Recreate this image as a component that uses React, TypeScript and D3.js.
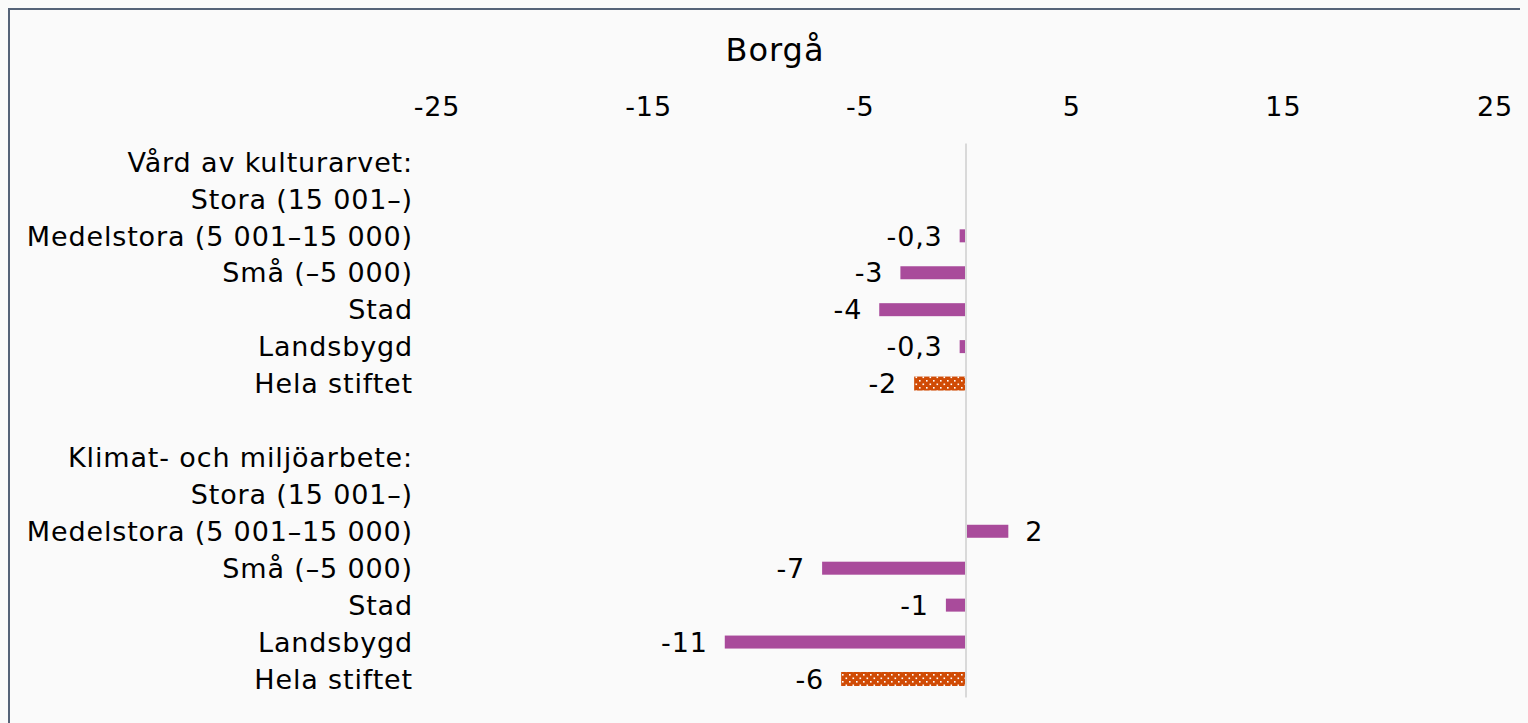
import React, { useEffect } from "react";
import * as d3 from "d3";

const title = "Borgå";
const categories = [
  "Vård av kulturarvet:",
  "Stora (15 001–)",
  "Medelstora (5 001–15 000)",
  "Små (–5 000)",
  "Stad",
  "Landsbygd",
  "Hela stiftet",
  "",
  "Klimat- och miljöarbete:",
  "Stora (15 001–)",
  "Medelstora (5 001–15 000)",
  "Små (–5 000)",
  "Stad",
  "Landsbygd",
  "Hela stiftet",
];
const values: (number | null)[] = [
  null, null, -0.3, -3.1, -4.1, -0.3, -2.45,
  null,
  null, null, 2.0, -6.8, -0.95, -11.4, -5.9,
];
const valueLabels = [
  "", "", "-0,3", "-3", "-4", "-0,3", "-2",
  "",
  "", "", "2", "-7", "-1", "-11", "-6",
];
const totalRows = [false, false, false, false, false, false, true, false, false, false, false, false, false, false, true];
const tickValues = [-25, -15, -5, 5, 15, 25];

const W = 1520;
const H = 715;
const FONT = "'DejaVu Sans', Verdana, sans-serif";
const PURPLE = "#a94b9b";
const ORANGE = "#d04b05";
const LS = 0.85;

export default function App() {
  useEffect(() => {
    document.body.style.overflow = "hidden";
    document.body.style.background = "#fafafa";
  }, []);

  const x = d3.scaleLinear().domain([-25, 25]).range([429, 1487]);
  const y = d3
    .scaleBand<number>()
    .domain(d3.range(categories.length))
    .range([135.5, 135.5 + 36.93 * categories.length])
    .paddingInner(0)
    .paddingOuter(0);
  const x0 = x(0);

  return (
    <svg width={W} height={H} style={{ display: "block", background: "#fafafa" }}>
      <defs>
        <pattern id="dots" patternUnits="userSpaceOnUse" width={7} height={7}>
          <rect width={7} height={7} fill={ORANGE} />
          <rect x={1} y={1} width={1.6} height={1.6} fill="#ffffff" />
          <rect x={4.5} y={4.5} width={1.6} height={1.6} fill="#ffffff" />
        </pattern>
      </defs>
      <rect x={1} y={1} width={W + 20} height={H + 20} fill="#fafafa" stroke="#556378" strokeWidth={2} />
      <text x={767} y={53} textAnchor="middle" fontFamily={FONT} fontSize={32} letterSpacing={1} fill="#000">
        {title}
      </text>
      {tickValues.map((t) => (
        <text key={t} x={x(t)} y={108} textAnchor="middle" fontFamily={FONT} fontSize={27} letterSpacing={LS} fill="#000">
          {t}
        </text>
      ))}
      <line x1={x0} x2={x0} y1={y.range()[0]} y2={y.range()[1]} stroke="#d9d9d9" strokeWidth={2} />
      {categories.map((c, i) => (
        <text
          key={"c" + i}
          x={405}
          y={(y(i) as number) + y.bandwidth() / 2}
          dy="0.36em"
          textAnchor="end"
          fontFamily={FONT}
          fontSize={27}
          letterSpacing={LS}
          fill="#000"
        >
          {c}
        </text>
      ))}
      {values.map((v, i) => {
        if (v === null) return null;
        const cy = (y(i) as number) + y.bandwidth() / 2;
        const h = totalRows[i] ? 14 : 13;
        const xa = Math.min(x(v), x0 + 1);
        const xb = Math.max(x(v), x0 - 1);
        const neg = v < 0;
        return (
          <g key={"b" + i}>
            <rect
              x={neg ? x(v) : x0 + 1}
              y={cy - h / 2}
              width={neg ? x0 - 1 - x(v) : x(v) - x0 - 1}
              height={h}
              fill={totalRows[i] ? "url(#dots)" : PURPLE}
            />
            <text
              x={neg ? xa - 17 : xb + 17}
              y={cy}
              dy="0.36em"
              textAnchor={neg ? "end" : "start"}
              fontFamily={FONT}
              fontSize={27}
              letterSpacing={LS}
              fill="#000"
            >
              {valueLabels[i]}
            </text>
          </g>
        );
      })}
    </svg>
  );
}
